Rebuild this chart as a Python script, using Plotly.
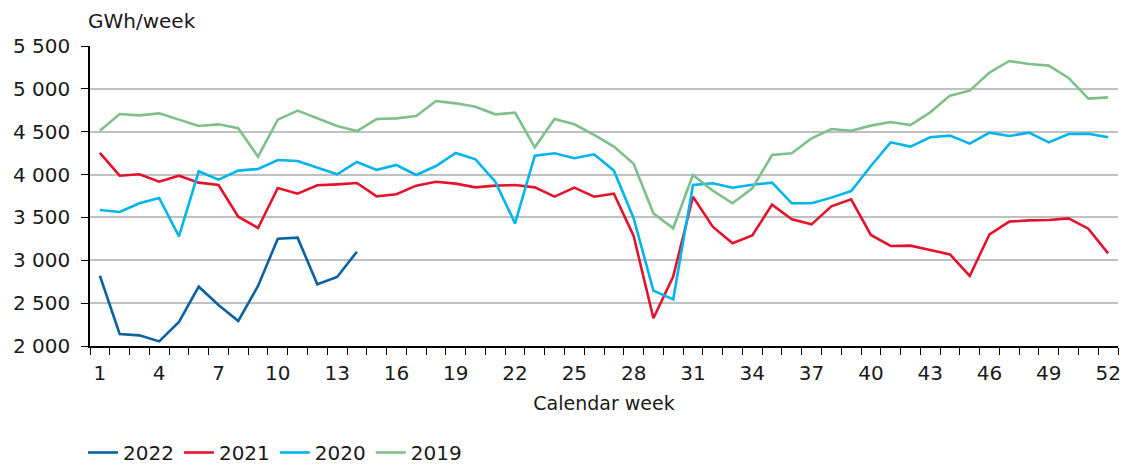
import plotly.graph_objects as go

weeks = list(range(1, 53))

y2022 = [2820, 2140, 2124, 2054, 2280, 2692, 2478, 2292, 2700, 3252, 3264, 2720, 2805, 3100]

y2021 = [4252, 3987, 4003, 3917, 3987, 3906, 3878, 3509, 3377, 3843, 3777, 3875, 3886, 3902,
         3746, 3770, 3871, 3917, 3894, 3851, 3871, 3878, 3851, 3742, 3847, 3742, 3777, 3283,
         2323, 2809, 3742, 3392, 3198, 3291, 3649, 3478, 3419, 3629, 3711, 3295, 3167, 3171,
         3120, 3069, 2817, 3303, 3451, 3466, 3470, 3489, 3369, 3081]

y2020 = [3587, 3563, 3665, 3727, 3279, 4038, 3941, 4046, 4065, 4170, 4158, 4084, 4003, 4147,
         4055, 4112, 3995, 4100, 4252, 4178, 3917, 3431, 4221, 4248, 4190, 4236, 4046, 3490,
         2646, 2544, 3878, 3898, 3847, 3882, 3905, 3665, 3665, 3731, 3808, 4100, 4376, 4326,
         4435, 4454, 4361, 4489, 4450, 4489, 4376, 4473, 4477, 4435]

y2019 = [4512, 4707, 4691, 4714, 4641, 4567, 4586, 4540, 4209, 4641, 4746, 4656, 4567, 4508,
         4648, 4656, 4683, 4858, 4831, 4792, 4703, 4722, 4318, 4648, 4586, 4462, 4326, 4127,
         3548, 3373, 3995, 3812, 3665, 3840, 4228, 4248, 4423, 4532, 4512, 4571, 4613, 4578,
         4726, 4921, 4979, 5189, 5325, 5290, 5271, 5127, 4886, 4901]

series_names = ["2022", "2021", "2020", "2019"]
series_values = [y2022, y2021, y2020, y2019]
series_colors = ["#0a62a0", "#e3132c", "#00b4ec", "#7dc08b"]

x_tickvals = list(range(1, 53, 3))
x_ticktext = [str(v) for v in x_tickvals]
y_tickvals = [2000, 2500, 3000, 3500, 4000, 4500, 5000, 5500]
y_ticktext = ["2 000", "2 500", "3 000", "3 500", "4 000", "4 500", "5 000", "5 500"]

FONT = "DejaVu Sans, sans-serif"
TXT = "#1a1a1a"

fig = go.Figure()
for name, vals, col in zip(series_names, series_values, series_colors):
    fig.add_trace(go.Scatter(
        x=weeks[:len(vals)], y=vals, name=name, mode="lines",
        line=dict(color=col, width=2.6),
    ))

fig.update_layout(
    width=1126, height=466,
    margin=dict(l=90, r=8, t=46, b=120, autoexpand=False),
    paper_bgcolor="white", plot_bgcolor="white",
    font=dict(family=FONT, size=20, color=TXT),
    showlegend=True,
    legend=dict(orientation="h", xref="container", yref="paper",
                x=83 / 1126, xanchor="left", y=-0.355, yanchor="middle",
                font=dict(size=20, color=TXT), traceorder="normal", itemwidth=30,
                bgcolor="rgba(0,0,0,0)"),
    annotations=[dict(text="GWh/week", xref="paper", yref="paper", x=-0.004, y=1.083,
                      xanchor="left", yanchor="middle", showarrow=False,
                      font=dict(size=20, color=TXT))],
)

fig.update_xaxes(
    range=[0.5, 52.5], tickvals=x_tickvals, ticktext=x_ticktext,
    ticks="", showgrid=False, zeroline=False, automargin=False,
    showline=True, linecolor="black", linewidth=1.5,
    minor=dict(tick0=0.5, dtick=1, ticks="outside", ticklen=7, tickcolor="black",
               tickwidth=1.2, showgrid=False),
    tickfont=dict(size=20, color=TXT), ticklabelstandoff=8,
    title=dict(text="Calendar week", font=dict(size=19, color=TXT), standoff=13),
)

fig.update_yaxes(
    range=[2000, 5500], tickvals=y_tickvals, ticktext=y_ticktext,
    ticks="outside", ticklen=7, tickcolor="black", tickwidth=1.2,
    showgrid=True, gridcolor="#c0c0c0", gridwidth=2, automargin=False,
    zeroline=False, showline=True, linecolor="black", linewidth=1.5,
    tickfont=dict(size=20, color=TXT), ticklabelstandoff=7,
)

fig.write_html("out.html", config={"displayModeBar": False},
               post_script="document.body.style.margin='0';")
